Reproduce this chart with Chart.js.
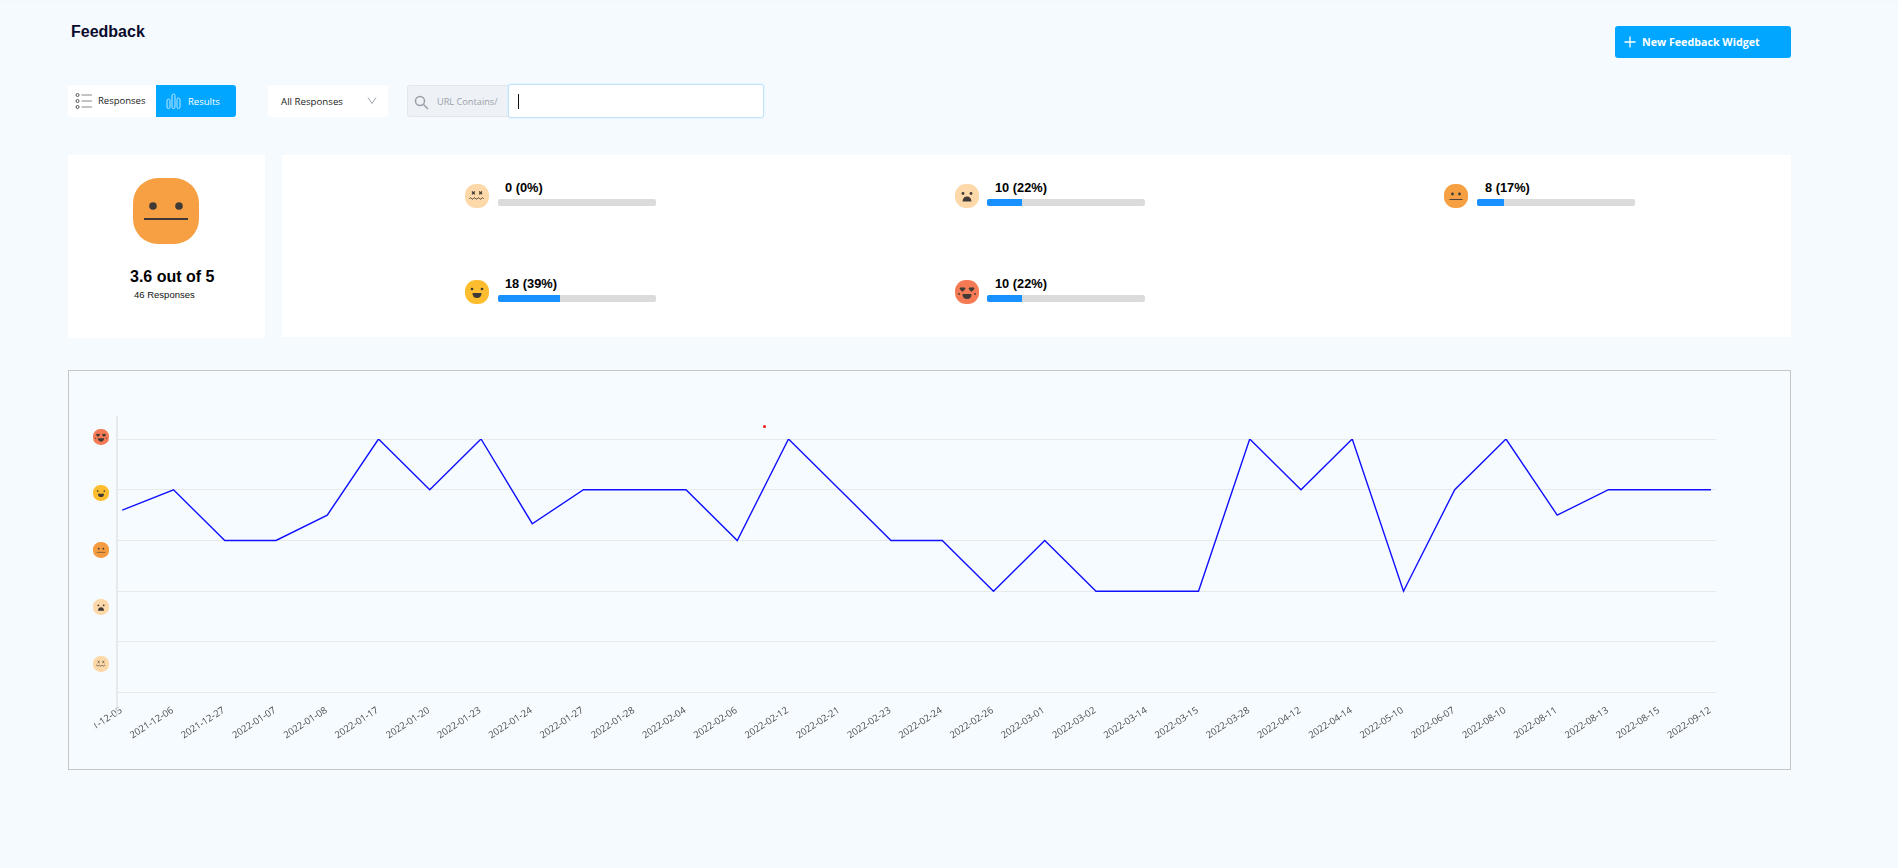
<!DOCTYPE html>
<html lang="en">
<head>
<meta charset="utf-8">
<title>Feedback</title>
<script src="https://cdn.jsdelivr.net/npm/chart.js@4/dist/chart.umd.min.js"></script>
<style>
html,body{margin:0;padding:0;width:1898px;height:868px;overflow:hidden;background:#f5faff;font-family:"Liberation Sans",Arial,sans-serif}
.a{position:absolute;box-sizing:border-box;white-space:nowrap}
.white{background:#fff}
.os{font-family:"Open Sans",sans-serif}
.bar{height:7px;width:158px;background:#dcdbdc;border-radius:2px;overflow:hidden}
.bar i{display:block;height:100%;background:#1890ff}
.num{font-weight:700;font-size:12.800px;color:#000;line-height:14px}
svg{display:block}
</style>
</head>
<body>
<div class="a" style="left:0;top:0;width:1898px;height:3px;background:#f4f9fd"></div>
<div class="a" style="left:71px;top:23px;font-size:16px;font-weight:700;color:#0a0a2c;line-height:18px">Feedback</div>

<div class="a" style="left:1615px;top:26px;width:176px;height:32px;background:#00a6ff;border-radius:3px"></div>
<svg class="a" style="left:1623px;top:35px" width="14" height="14"><path d="M7 1.500V12.500M1.500 7H12.500" stroke="#fff" stroke-width="1.300"/></svg>
<div class="a os" style="left:1642px;top:34px;font-size:10.700px;font-weight:700;color:#fff;line-height:16px">New Feedback Widget</div>

<div class="a white" style="left:68px;top:85px;width:168px;height:32px;border-radius:3px"></div>
<div class="a" style="left:156px;top:85px;width:80px;height:32px;background:#00a6ff;border-radius:0 3px 3px 0"></div>
<svg class="a" style="left:75px;top:92px" width="18" height="18" fill="none" stroke="#555" stroke-width="1"><circle cx="2.500" cy="3" r="1.500"/><circle cx="2.500" cy="9" r="1.500"/><circle cx="2.500" cy="15" r="1.500"/><path d="M6.500 3H17M6.500 9H17M6.500 15H17" stroke="#888"/></svg>
<div class="a os" style="left:98px;top:94px;font-size:9.500px;color:#222;line-height:14px">Responses</div>
<svg class="a" style="left:166px;top:92px" width="15" height="18" fill="none" stroke="#bfe6ff" stroke-width="1"><rect x="1" y="7" width="3" height="9.500" rx="1.500"/><rect x="6" y="2" width="3" height="14.500" rx="1.500"/><rect x="11" y="6" width="3" height="10.500" rx="1.500"/></svg>
<div class="a os" style="left:188px;top:95px;font-size:9.500px;color:#fff;line-height:14px">Results</div>

<div class="a white" style="left:268px;top:85px;width:120px;height:32px;border-radius:3px"></div>
<div class="a os" style="left:281px;top:95px;font-size:9.700px;color:#222;line-height:14px">All Responses</div>
<svg class="a" style="left:367px;top:96px" width="10" height="9" fill="none" stroke="#9ba3ad" stroke-width="1"><path d="M1 1.500L5 7.500L9 1.500"/></svg>

<div class="a" style="left:407px;top:85px;width:103px;height:32px;background:#eef1f5;border:1px solid #e3e6ea;border-radius:3px 0 0 3px"></div>
<svg class="a" style="left:414px;top:95px" width="15" height="15" fill="none" stroke="#9aa1aa" stroke-width="1.500"><circle cx="6" cy="6" r="4.500"/><path d="M9.500 9.500L14 14"/></svg>
<div class="a os" style="left:437px;top:95px;font-size:9.200px;color:#9aa1aa;line-height:14px">URL Contains/</div>
<div class="a white" style="left:508px;top:84px;width:256px;height:34px;border:1px solid #bfe3fb;border-radius:3px;box-shadow:0 0 2px #cdeafd"></div>
<div class="a" style="left:518px;top:94px;width:1px;height:15px;background:#111"></div>

<div class="a white" style="left:68px;top:155px;width:197px;height:183px"></div>
<div class="a white" style="left:282px;top:155px;width:1509px;height:182px"></div>
<div class="a" id="bigFace" style="left:133px;top:178px"></div>
<div class="a" style="left:130px;top:268px;font-size:16px;font-weight:700;color:#000;line-height:18px" id="score"></div>
<div class="a" style="left:134px;top:289px;font-size:9.500px;color:#111;line-height:12px" id="resp"></div>
<div id="rows"></div>

<div class="a" style="left:68px;top:370px;width:1723px;height:400px;border:1px solid #c4c6c8;background:#f6fbff"></div>
<div class="a" style="left:763px;top:425px;width:3px;height:3px;border-radius:50%;background:#f01818"></div>
<div id="axisFaces"></div>
<canvas class="a" id="c" width="1639" height="368" style="left:94px;top:400px;width:1639px;height:368px"></canvas>

<script>
const dateLabels = ["2021-12-05","2021-12-06","2021-12-27","2022-01-07","2022-01-08","2022-01-17","2022-01-20","2022-01-23","2022-01-24","2022-01-27","2022-01-28","2022-02-04","2022-02-06","2022-02-12","2022-02-21","2022-02-23","2022-02-24","2022-02-26","2022-03-01","2022-03-02","2022-03-14","2022-03-15","2022-03-28","2022-04-12","2022-04-14","2022-05-10","2022-06-07","2022-08-10","2022-08-11","2022-08-13","2022-08-15","2022-09-12"];
const ratings = [3.6,4,3,3,3.5,5,4,5,3.33,4,4,4,3,5,4,3,3,2,3,2,2,2,5,4,5,2,4,5,3.5,4,4,4];
const yTickValues = [0,1,2,3,4,5];
const faceNames = ["dead","sad","neutral","happy","love"];
const faceCounts = [0,10,8,18,10];
const facePercents = [0,22,17,39,22];
const scoreText = "3.6 out of 5";
const responsesText = "46 Responses";

const faceColors = {dead:"#fdd8a8",sad:"#fdd8a8",neutral:"#f6a043",happy:"#fdbd2f",love:"#f47b55"};
function faceSvg(name,size,color){
  const d="#3f3a36";
  const parts={
    dead:`<path d="M7 7.500l2.800 2.800M9.800 7.500L7 10.300M14.200 7.500l2.800 2.800M17 7.500l-2.800 2.800" stroke="${d}" stroke-width="1.200" fill="none"/><path d="M4.500 14.500q1 -1.400 2 0t2 0t2 0t2 0t2 0t2 0t2 0" stroke="${d}" stroke-width="1" fill="none"/>`,
    sad:`<circle cx="8" cy="9.500" r="1.400" fill="${d}"/><circle cx="16" cy="9.500" r="1.400" fill="${d}"/><path d="M7.500 17.500q.5-5 4.500-5t4.500 5z" fill="${d}"/>`,
    neutral:`<circle cx="8.500" cy="10" r="1.400" fill="${d}"/><circle cx="15.500" cy="10" r="1.400" fill="${d}"/><path d="M5.500 15.500H18.500" stroke="${d}" stroke-width=".9"/>`,
    happy:`<circle cx="7" cy="9" r="1.300" fill="${d}"/><circle cx="17" cy="9" r="1.300" fill="${d}"/><path d="M7.500 13h9q0 5-4.500 5t-4.500-5z" fill="${d}"/>`,
    love:`<path d="M4.500 8.500q1.500-2 3 -.8q1.500-1.200 3 .8q-1 2-3 3.300q-2-1.300-3-3.300zM13.500 8.500q1.500-2 3-.8q1.500-1.200 3 .8q-1 2-3 3.300q-2-1.300-3-3.300z" fill="${d}"/><path d="M7.500 14h9q0 5-4.500 5t-4.500-5z" fill="${d}"/><circle cx="4" cy="14" r=".9" fill="${d}"/><circle cx="20" cy="14" r=".9" fill="${d}"/>`
  };
  return `<svg width="${size}" height="${size}" viewBox="0 0 24 24"><rect width="24" height="24" rx="11" fill="${color||faceColors[name]}"/>${parts[name]}</svg>`;
}
function bigFace(){
  return `<svg width="66" height="66" viewBox="0 0 66 66"><rect width="66" height="66" rx="25" fill="#f6a043"/><circle cx="20" cy="28" r="3.800" fill="#3f3a36"/><circle cx="46" cy="28" r="3.800" fill="#3f3a36"/><path d="M11 41H55" stroke="#3f3a36" stroke-width="2"/></svg>`;
}
document.getElementById("bigFace").innerHTML=bigFace();
document.getElementById("score").textContent=scoreText;
document.getElementById("resp").textContent=responsesText;

const rowCols=[465,955,1444];
const rowTop=[184,280];
const barTop=[199,295];
const textTop=[181,277];
const barOffs=[33,32,33];
const textOffs=[40,40,41];
let html="";
faceNames.forEach((n,i)=>{
  const c=i%3,r=Math.floor(i/3);
  const x=rowCols[c];
  html+=`<div class="a" style="left:${x}px;top:${rowTop[r]}px">${faceSvg(n,24)}</div>`;
  html+=`<div class="a num" style="left:${x+textOffs[c]}px;top:${textTop[r]}px">${faceCounts[i]} (${facePercents[i]}%)</div>`;
  html+=`<div class="a bar" style="left:${x+barOffs[c]}px;top:${barTop[r]}px"><i style="width:${facePercents[i]}%"></i></div>`;
});
document.getElementById("rows").innerHTML=html;

const axisFaceCenters=[436.7,493.3,550,607,664];
const axisFaceOrder=["love","happy","neutral","sad","dead"];
const axisColors={love:"#f47b55",happy:"#fdbd2f",neutral:"#f59b40",sad:"#fdd8a8",dead:"#fdd8a8"};
document.getElementById("axisFaces").innerHTML=axisFaceOrder.map((n,i)=>
 `<div class="a" style="left:93px;top:${axisFaceCenters[i]-8}px">${faceSvg(n,16,axisColors[n])}</div>`).join("");

const yAxisLine={id:"yAxisLine",afterDatasetsDraw(ch){
  const {ctx,chartArea:a}=ch;
  ctx.save();ctx.strokeStyle="#e4e5e7";ctx.lineWidth=1.600;
  ctx.beginPath();ctx.moveTo(a.left,a.top-23);ctx.lineTo(a.left,a.bottom+24);ctx.stroke();ctx.restore();
}};

new Chart(document.getElementById("c"),{
  type:"line",
  data:{datasets:[{data:ratings.map((v,i)=>({x:i,y:v})),borderColor:"#1010ff",borderWidth:1.400,pointRadius:0,tension:0,fill:false}]},
  options:{
    responsive:false,animation:false,devicePixelRatio:1,
    layout:{padding:{left:23,right:17,top:39,bottom:0}},
    plugins:{legend:{display:false},tooltip:{enabled:false}},
    scales:{
      x:{type:"linear",min:-0.103,max:31.098,
        afterBuildTicks:s=>{s.ticks=dateLabels.map((_,i)=>({value:i}));},
        afterFit:s=>{s.paddingLeft=0;s.paddingRight=0;s.height=75.3;},
        grid:{display:false},border:{display:false},
        ticks:{autoSkip:false,minRotation:33,maxRotation:33,padding:4,labelOffset:-1,color:"#4c4c4c",
          font:{family:"'Open Sans'",size:9.500},
          callback:v=>dateLabels[v]}},
      y:{min:0,max:5,
        afterBuildTicks:s=>{s.ticks=yTickValues.map(v=>({value:v}));},
        afterFit:s=>{s.width=0;},
        border:{display:false},
        grid:{color:"#e8e9ea",lineWidth:1,drawTicks:false},
        ticks:{display:false}}
    }
  },
  plugins:[yAxisLine]
});
</script>
</body>
</html>
